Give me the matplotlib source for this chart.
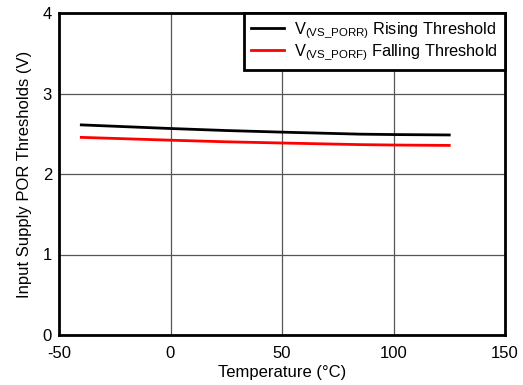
import matplotlib
matplotlib.use("Agg")
import matplotlib.pyplot as plt

plt.rcParams['font.family'] = ['Liberation Sans', 'DejaVu Sans']
plt.rcParams['mathtext.fontset'] = 'custom'
plt.rcParams['mathtext.rm'] = 'Liberation Sans'
plt.rcParams['mathtext.it'] = 'Liberation Sans'
plt.rcParams['axes.unicode_minus'] = False

temperature = [-40, 0, 25, 50, 85, 100, 125]
rising = [2.61, 2.565, 2.54, 2.52, 2.495, 2.49, 2.485]
falling = [2.455, 2.42, 2.40, 2.385, 2.365, 2.36, 2.355]

fig = plt.figure(figsize=(5.23, 3.85), dpi=100)
ax = fig.add_axes([59/523, 1 - 335/385, (505-59)/523, (335-13)/385])

ax.plot(temperature, rising, color='black', lw=2, label=r'V$_{\mathregular{(VS\_PORR)}}$ Rising Threshold')
ax.plot(temperature, falling, color='#ff0000', lw=2, label=r'V$_{\mathregular{(VS\_PORF)}}$ Falling Threshold')

ax.set_xlim(-50, 150)
ax.set_ylim(0, 4)
ax.set_xticks([-50, 0, 50, 100, 150])
ax.set_yticks([0, 1, 2, 3, 4])
ax.grid(True, color='#555555', lw=0.9)
for s in ax.spines.values():
    s.set_linewidth(2)
    s.set_color('black')
ax.tick_params(length=0, labelsize=12)
ax.tick_params(axis='x', pad=8)
ax.tick_params(axis='y', pad=5)
ax.set_xlabel('Temperature (°C)', fontsize=12, labelpad=3)
ax.set_ylabel('Input Supply POR Thresholds (V)', fontsize=12, labelpad=8)

leg = ax.legend(loc='upper right', fontsize=11.8, frameon=True, fancybox=False,
                edgecolor='black', framealpha=1, borderaxespad=0, handlelength=2.0,
                handletextpad=0.6, borderpad=0.45, labelspacing=0.12)
leg.get_frame().set_linewidth(2)

fig.savefig('out.png', dpi=100)
